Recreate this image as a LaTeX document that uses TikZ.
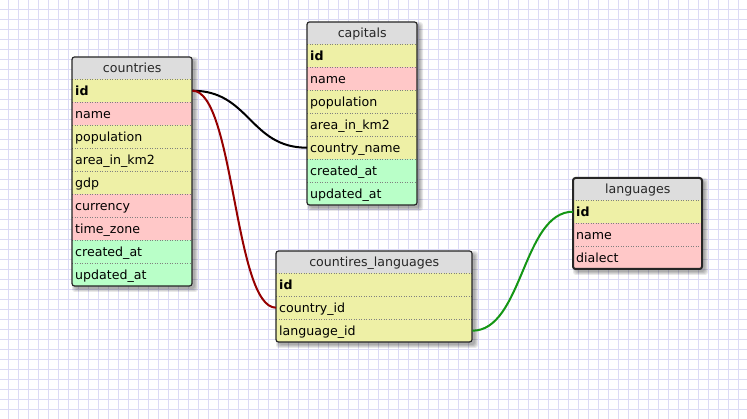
\documentclass[tikz,border=0pt]{standalone}
\usepackage{fontspec}
\setmainfont{DejaVu Sans}
\usetikzlibrary{calc}
\definecolor{hdrgray}{RGB}{221,221,221}
\definecolor{yel}{RGB}{238,240,166}
\definecolor{pnk}{RGB}{255,200,200}
\definecolor{grn}{RGB}{185,255,200}
\definecolor{gridlav}{RGB}{220,218,245}
\definecolor{fkred}{RGB}{150,0,0}
\definecolor{fkgreen}{RGB}{20,150,20}
\newcommand\dbfont{\fontsize{12.6pt}{14pt}\selectfont}
\tikzset{
  gridline/.style={draw=gridlav, line width=1pt},
  dbhead/.style={fill=hdrgray, anchor=north west, minimum height=22pt, inner xsep=3pt, inner ysep=0pt,
    text height=11pt, text depth=2pt, align=center, font=\dbfont, text=black!85},
  dbrow/.style={anchor=north west, minimum height=23pt, inner xsep=3pt, inner ysep=0pt,
    text height=11pt, text depth=2pt, align=left, font=\dbfont, text=black},
  dbsep/.style={draw=black!50, line width=0.8pt, dash pattern=on 1pt off 1.5pt},
  dbborder/.style={draw=black!85, line width=1.2pt, rounded corners=2.5pt},
  fk/.style={line width=2pt},
}
% #1 prefix, #2 x, #3 y, #4 width, #5 text width, #6 title, #7 rows, #8 border opts, #9 row list
\newcommand\mktable[9]{%
  \foreach \s in {0,1,2,3}
    \fill[black, opacity=0.09, rounded corners=3pt] ({#2+3-\s},{#3+3-\s}) rectangle ({#2+#4+3+\s},{#3+22+23*#7+3+\s});
  \begin{scope}
    \clip[rounded corners=2.5pt] (#2,#3) rectangle ({#2+#4},{#3+22+23*#7});
    \node[dbhead, minimum width=#4pt, text width=#5pt] (#1-head) at (#2,#3) {#6};
    \foreach \rn/\rc/\txt [count=\i from 0] in {#9} {
      \node[dbrow, fill=\rc, minimum width=#4pt, text width=#5pt] (#1-\rn) at (#2,{#3+22+23*\i}) {\txt};
      \draw[dbsep] (#1-\rn.north west) -- (#1-\rn.north east);
    }
  \end{scope}
  \draw[dbborder,#8] (#2,#3) rectangle ({#2+#4},{#3+22+23*#7});
}
\begin{document}
\begin{tikzpicture}[x=1pt,y=-1pt]
  \useasboundingbox (0,0) rectangle (747,419);
  \fill[white] (0,0) rectangle (747,419);
  \foreach \gx in {8.5,18.5,...,748} \draw[gridline] (\gx,0) -- (\gx,419);
  \foreach \gy in {9.5,19.5,...,420} \draw[gridline] (0,\gy) -- (747,\gy);

  \mktable{countries}{72}{57}{120}{114}{countries}{9}{}{%
    id/yel/\textbf{id}, name/pnk/name, population/yel/population, areainkm/yel/area\_in\_km2,
    gdp/yel/gdp, currency/pnk/currency, timezone/pnk/time\_zone, createdat/grn/created\_at, updatedat/grn/updated\_at}
  \mktable{capitals}{307}{22}{110}{104}{capitals}{7}{}{%
    id/yel/\textbf{id}, name/pnk/name, population/yel/population, areainkm/yel/area\_in\_km2,
    countryname/yel/country\_name, createdat/grn/created\_at, updatedat/grn/updated\_at}
  \mktable{cl}{276}{251}{196}{190}{countires\_languages}{3}{}{%
    id/yel/\textbf{id}, countryid/yel/country\_id, languageid/yel/language\_id}
  \mktable{languages}{573}{178}{129}{123}{languages}{3}{line width=2pt}{%
    id/yel/\textbf{id}, name/pnk/name, dialect/pnk/dialect}

  \coordinate (m1) at ($(countries-id.east)!0.5!(capitals-countryname.west)$);
  \coordinate (m2) at ($(countries-id.east)!0.5!(cl-countryid.west)$);
  \coordinate (m3) at ($(cl-languageid.east)!0.5!(languages-id.west)$);
  \draw[fk, draw=black] (countries-id.east) .. controls (m1 |- countries-id.east) and (m1 |- capitals-countryname.west) .. (capitals-countryname.west);
  \draw[fk, draw=fkred] (countries-id.east) .. controls (m2 |- countries-id.east) and (m2 |- cl-countryid.west) .. (cl-countryid.west);
  \draw[fk, draw=fkgreen] (cl-languageid.east) .. controls (m3 |- cl-languageid.east) and (m3 |- languages-id.west) .. (languages-id.west);
\end{tikzpicture}
\end{document}
